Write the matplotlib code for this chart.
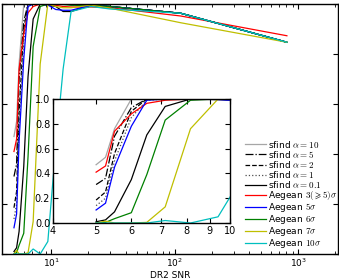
import numpy as np
import matplotlib
matplotlib.use("Agg")
import matplotlib.pyplot as plt
from matplotlib.ticker import ScalarFormatter, NullLocator

plt.rcParams['mathtext.fontset'] = 'cm'
plt.rcParams['font.size'] = 6.5
plt.rcParams['xtick.direction'] = 'in'
plt.rcParams['ytick.direction'] = 'in'
plt.rcParams['xtick.top'] = True
plt.rcParams['ytick.right'] = True
plt.rcParams['axes.linewidth'] = 1.0

# SNR bins
snr = [5.0, 5.25, 5.5, 6.0, 6.5, 7.15, 8.15, 9.4, 10.9, 12.5, 14.5, 21, 30, 112, 810]

# completeness curves
sf_a10 = [0.47, 0.53, 0.76, 1.0, 1.0, 1.0, 1.0, 1.0, 1.0, 1.0, 0.998, 0.995, 0.99, 0.963, 0.847]
sf_a5 = [0.31, 0.36, 0.70, 0.93, 1.0, 1.0, 1.0, 1.0, 1.0, 1.0, 0.998, 0.995, 0.99, 0.963, 0.847]
sf_a2 = [0.185, 0.25, 0.56, 0.90, 1.0, 1.0, 1.0, 1.0, 1.0, 1.0, 0.998, 0.995, 0.99, 0.963, 0.847]
sf_a1 = [0.14, 0.20, 0.50, 0.85, 0.99, 1.0, 1.0, 1.0, 1.0, 1.0, 0.998, 0.995, 0.99, 0.963, 0.847]
sf_a01 = [0.01, 0.025, 0.09, 0.35, 0.71, 0.94, 1.0, 0.995, 0.99, 0.97, 0.97, 0.995, 0.99, 0.963, 0.847]
ae_3 = [0.41, 0.46, 0.74, 0.88, 0.965, 0.99, 1.0, 1.0, 0.995, 0.99, 0.988, 0.988, 0.985, 0.952, 0.873]
ae_5 = [0.105, 0.16, 0.45, 0.78, 0.99, 1.0, 1.0, 0.996, 0.978, 0.975, 0.975, 0.995, 0.99, 0.963, 0.847]
ae_6 = [0.0, 0.005, 0.035, 0.083, 0.39, 0.83, 0.99, 1.0, 1.0, 0.998, 0.995, 0.995, 0.99, 0.963, 0.847]
ae_7 = [0.0, 0.015, 0.0, 0.0, 0.005, 0.13, 0.76, 1.0, 0.99, 0.985, 0.985, 0.996, 0.983, 0.925, 0.847]
ae_10 = [0.0, 0.0, 0.0, 0.0, 0.0, 0.02, 0.0, 0.05, 0.43, 0.74, 0.97, 0.99, 0.98, 0.963, 0.847]

series = [
    (sf_a10, dict(color='0.65', ls='-'), r'sfind $\alpha=10$'),
    (sf_a5, dict(color='k', ls='-.'), r'sfind $\alpha=5$'),
    (sf_a2, dict(color='k', ls='--'), r'sfind $\alpha=2$'),
    (sf_a1, dict(color='0.3', ls=':'), r'sfind $\alpha=1$'),
    (sf_a01, dict(color='k', ls='-'), r'sfind $\alpha=0.1$'),
    (ae_3, dict(color='r', ls='-'), r'Aegean $3(\geqslant5)\sigma$'),
    (ae_5, dict(color='b', ls='-'), r'Aegean $5\sigma$'),
    (ae_6, dict(color='g', ls='-'), r'Aegean $6\sigma$'),
    (ae_7, dict(color='#bfbf00', ls='-'), r'Aegean $7\sigma$'),
    (ae_10, dict(color='#00bfbf', ls='-'), r'Aegean $10\sigma$'),
]

fig = plt.figure(figsize=(3.39, 2.79), dpi=100)
ax = fig.add_axes([2/339, 25/279, 336/339, 250/279])
for vals, st, lab in series:
    ax.plot(snr, vals, lw=0.9, label=lab, **st)
ax.set_xscale('log')
ax.set_xlim(4, 2100)
ax.set_ylim(0, 1.0)
ax.set_yticklabels([])
ax.set_xlabel('DR2 SNR', labelpad=1)
ax.tick_params(axis='x', pad=2, labelsize=6.5)
ax.legend(loc='upper left', bbox_to_anchor=(0.722, 0.462), frameon=False,
          borderpad=0, borderaxespad=0, labelspacing=-0.1,
          handlelength=2.4, handletextpad=0.2, fontsize=6.5)

# inset zoom on the rise
ins = fig.add_axes([53/339, 56/279, 177/339, 124/279])
for vals, st, lab in series:
    ins.plot(snr, vals, lw=0.9, **st)
ins.set_xscale('log')
ins.set_xlim(4, 10)
ins.set_ylim(0, 1.0)
ins.set_xticks([4, 5, 6, 7, 8, 9, 10])
ins.xaxis.set_minor_locator(NullLocator())
ins.xaxis.set_major_formatter(ScalarFormatter())
ins.set_yticks([0, 0.2, 0.4, 0.6, 0.8, 1.0])
ins.tick_params(labelsize=7, pad=2)

fig.savefig('out.png', dpi=100)
